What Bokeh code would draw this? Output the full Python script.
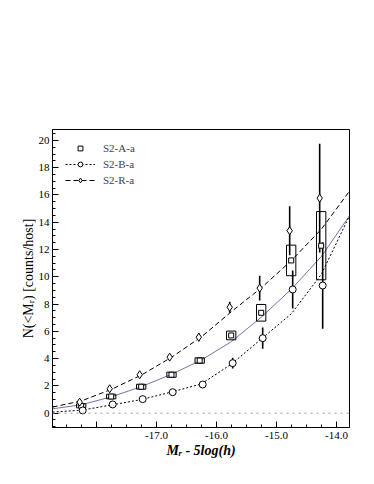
from bokeh.plotting import figure
from bokeh.models import (Range1d, FixedTicker, SingleIntervalTicker, Span,
                          Legend, LegendItem, NumeralTickFormatter)
from bokeh.embed import file_html
from bokeh.resources import INLINE

# ---------------- data ----------------
# S2-A-a : squares with error boxes
a_mag = [-18.255, -17.755, -17.255, -16.75, -16.28, -15.755, -15.255, -14.755, -14.255]
a_n   = [0.54, 1.22, 1.94, 2.82, 3.86, 5.70, 7.36, 11.2, 12.28]
a_err = [0.15, 0.17, 0.18, 0.19, 0.2, 0.32, 0.61, 1.12, 2.5]
# S2-B-a : circles
b_mag = [-18.23, -17.73, -17.23, -16.73, -16.23, -15.73, -15.23, -14.73, -14.23]
b_n   = [0.2, 0.64, 1.03, 1.54, 2.10, 3.67, 5.50, 9.07, 9.36]
b_err = [0.05, 0.1, 0.12, 0.15, 0.2, 0.4, 0.78, 1.4, 3.17]
# S2-R-a : diamonds
r_mag = [-18.28, -17.78, -17.28, -16.78, -16.295, -15.78, -15.28, -14.78, -14.28]
r_n   = [0.81, 1.79, 2.82, 4.11, 5.57, 7.77, 9.17, 13.38, 15.77]
r_err = [0.1, 0.12, 0.15, 0.18, 0.3, 0.4, 0.9, 1.8, 3.98]
# fitted curves
fit_mag = [-18.73, -18.25, -17.75, -17.25, -16.75, -16.25, -15.75, -15.25, -14.75, -14.25, -13.78]
fit_a   = [0.32, 0.62, 1.2, 1.95, 2.85, 3.9, 5.25, 7.05, 9.1, 11.5, 14.5]
fit_b   = [0.08, 0.22, 0.6, 1.0, 1.55, 2.15, 3.6, 5.45, 7.3, 10.2, 14.5]
fit_r   = [0.45, 0.9, 1.75, 2.8, 4.1, 5.6, 7.45, 9.2, 11.2, 13.5, 16.3]

x_major_ticks = [-18.0, -17.0, -16.0, -15.0, -14.0]
x_minor_ticks = [-18.5, -18.25, -17.75, -17.5, -17.25, -16.75, -16.5, -16.25,
                 -15.75, -15.5, -15.25, -14.75, -14.5, -14.25, -13.75]
series_labels = ["S2-A-a", "S2-B-a", "S2-R-a"]
x_title = "M\u1d63 - 5log(h)"
y_title = "N(<M\u1d63) [counts/host]"

# ---------------- figure ----------------
X0, X1 = -18.733, -13.783
Y0, Y1 = -1.05, 20.8
FONT = "Liberation Serif"

p = figure(width=374, height=484, output_backend="svg", toolbar_location=None,
           x_range=Range1d(X0, X1), y_range=Range1d(Y0, Y1),
           min_border_left=52, min_border_right=25, min_border_top=129, min_border_bottom=57)
p.xgrid.visible = False
p.ygrid.visible = False
p.outline_line_color = "black"
p.outline_line_width = 1
p.background_fill_color = "white"
p.border_fill_color = "white"

for ax in (p.xaxis, p.yaxis):
    ax.axis_line_color = "black"
    ax.axis_line_width = 1
    ax.major_tick_in = 6
    ax.major_tick_out = 0
    ax.minor_tick_in = 3
    ax.minor_tick_out = 0
    ax.major_tick_line_color = "black"
    ax.minor_tick_line_color = "black"
    ax.major_label_text_font = FONT
    ax.major_label_text_font_size = "11px"
    ax.major_label_text_color = "black"
    ax.major_label_standoff = 4
    ax.axis_label_text_font = FONT
    ax.axis_label_text_font_size = "14px"
    ax.axis_label_text_color = "black"

p.xaxis.ticker = FixedTicker(ticks=x_major_ticks, minor_ticks=x_minor_ticks)
p.xaxis.formatter = NumeralTickFormatter(format="0.0")
p.xaxis.major_label_overrides = {-18.0: ""}
p.xaxis.axis_label = x_title
p.xaxis.axis_label_text_font_style = "bold italic"
p.xaxis.axis_label_standoff = 1

p.yaxis.ticker = SingleIntervalTicker(interval=2, num_minor_ticks=4)
p.yaxis.major_label_standoff = 3
p.yaxis.axis_label = y_title
p.yaxis.axis_label_text_font_style = "normal"
p.yaxis.axis_label_standoff = 0

# zero line
p.add_layout(Span(location=0, dimension="width", line_color="#9a9a9a",
                  line_dash="dotted", line_width=1))

# fitted curves
p.line(fit_mag, fit_a, line_color="#7d6db0", line_width=1)
lb = p.line(fit_mag, fit_b, line_color="black", line_width=1, line_dash="2 2")
lr = p.line(fit_mag, fit_r, line_color="black", line_width=1, line_dash="5 3")

# error bars
p.segment(x0=b_mag, y0=[n - e for n, e in zip(b_n, b_err)],
          x1=b_mag, y1=[n + e for n, e in zip(b_n, b_err)],
          line_color="black", line_width=1.6)
p.segment(x0=r_mag, y0=[n - e for n, e in zip(r_n, r_err)],
          x1=r_mag, y1=[n + e for n, e in zip(r_n, r_err)],
          line_color="black", line_width=1.6)
# error boxes for A
p.rect(x=a_mag, y=a_n, width=0.155, height=[2 * e for e in a_err],
       fill_color=None, line_color="black", line_width=1)

# markers
sa = p.scatter(a_mag, a_n, marker="square", size=5, fill_color="white",
               line_color="black", line_width=1)
sb = p.scatter(b_mag, b_n, marker="circle", size=7, fill_color="white",
               line_color="black", line_width=1)
sr = p.scatter(r_mag, r_n, marker="diamond", size=8, fill_color="white",
               line_color="black", line_width=1)

legend = Legend(items=[LegendItem(label=series_labels[0], renderers=[sa]),
                       LegendItem(label=series_labels[1], renderers=[lb, sb]),
                       LegendItem(label=series_labels[2], renderers=[lr, sr])],
                location="top_left", border_line_color=None, background_fill_alpha=0,
                label_text_font=FONT, label_text_font_size="11px",
                glyph_width=30, glyph_height=12, label_height=12, spacing=4,
                padding=0, margin=13, label_standoff=8)
p.add_layout(legend)

open("out.html", "w").write(file_html(p, INLINE))
